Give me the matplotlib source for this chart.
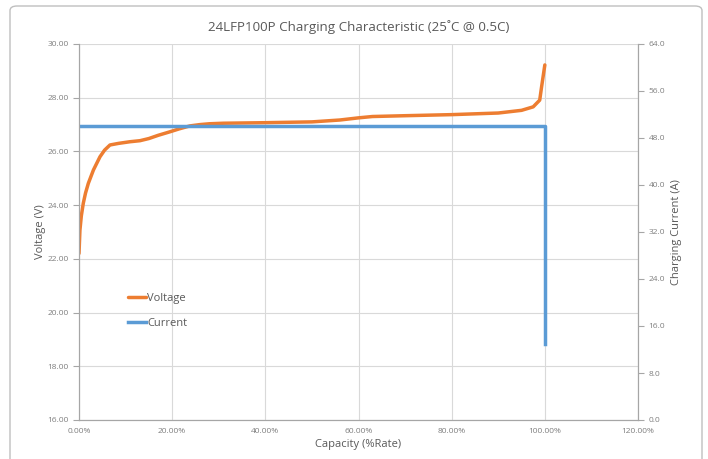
import matplotlib
matplotlib.use("Agg")
import matplotlib.pyplot as plt
from matplotlib.patches import FancyBboxPatch

plt.rcParams['font.family'] = ['Open Sans', 'DejaVu Sans']

# capacity (%) and voltage (V)
cap_v = [0, 0.2, 0.5, 0.92, 1.4, 2.0, 3.1, 4.5, 5.5, 6.65, 8.5, 10.9, 13.1, 15,
         17, 19.5, 21.5, 23.8, 26, 28, 31, 40, 50, 56, 60, 63, 70, 80, 90, 95,
         97.5, 98.9, 99.3, 100]
voltage = [22.2, 23.07, 23.6, 24.07, 24.45, 24.81, 25.31, 25.8, 26.05, 26.24,
           26.3, 26.36, 26.4, 26.48, 26.6, 26.73, 26.84, 26.95, 27.0, 27.03,
           27.05, 27.07, 27.1, 27.17, 27.25, 27.3, 27.33, 27.37, 27.43, 27.53,
           27.66, 27.91, 28.4, 29.22]

# capacity (%) and charging current (A)
cap_i = [0, 100, 100]
current = [50, 50, 13]

txt = '#595959'
tick_c = '#7f7f7f'
grid_c = '#d9d9d9'

fig = plt.figure(figsize=(7.08, 4.59), dpi=100)
fig.patches.append(FancyBboxPatch((10/708, -0.05), 692/708, 1.0 - 6/459 + 0.05,
                                  boxstyle="round,pad=0,rounding_size=0.01",
                                  transform=fig.transFigure, fill=False,
                                  edgecolor='#bfbfbf', linewidth=1.0))

ax = fig.add_axes([79/708, 39/459, 559/708, 376/459])
ax2 = ax.twinx()

lv, = ax.plot(cap_v, voltage, color='#ED7D31', linewidth=2.5, label='Voltage',
              solid_capstyle='round')
li, = ax2.plot(cap_i, current, color='#5B9BD5', linewidth=2.5, label='Current')

ax.set_xlim(0, 120)
ax.set_ylim(16, 30)
ax2.set_ylim(0, 64)
ax.set_xticks(range(0, 121, 20))
ax.set_xticklabels(['%.2f%%' % v for v in range(0, 121, 20)])
ax.set_yticks(range(16, 31, 2))
ax.set_yticklabels(['%.2f' % v for v in range(16, 31, 2)])
ax2.set_yticks(range(0, 65, 8))
ax2.set_yticklabels(['%.1f' % v for v in range(0, 65, 8)])

ax.grid(True, color=grid_c, linewidth=0.8)
ax.set_axisbelow(True)

for a in (ax, ax2):
    a.spines['top'].set_visible(False)
    for s in ('left', 'right', 'bottom'):
        a.spines[s].set_color('#a6a6a6')
        a.spines[s].set_linewidth(0.8)
ax.tick_params(axis='y', labelsize=6, colors=tick_c, length=4, width=0.8, color='#a6a6a6')
ax.tick_params(axis='x', labelsize=6, colors=tick_c, length=0, pad=6)
ax2.tick_params(axis='y', labelsize=6, colors=tick_c, length=4, width=0.8, color='#a6a6a6')

ax.set_title('24LFP100P Charging Characteristic (25˚C @ 0.5C)', fontsize=9.6,
             color=txt, pad=9)
ax.set_xlabel('Capacity (%Rate)', fontsize=8, color=txt, labelpad=3)
ax.set_ylabel('Voltage (V)', fontsize=8, color=txt, labelpad=1)
ax2.set_ylabel('Charging Current (A)', fontsize=8, color=txt, labelpad=4)

leg = ax.legend(handles=[lv, li], loc='upper left', bbox_to_anchor=(0.07, 0.365),
                frameon=False, fontsize=8, handlelength=1.6, handletextpad=0.1,
                labelspacing=1.25, labelcolor=txt)

fig.savefig('out.png', dpi=100)
